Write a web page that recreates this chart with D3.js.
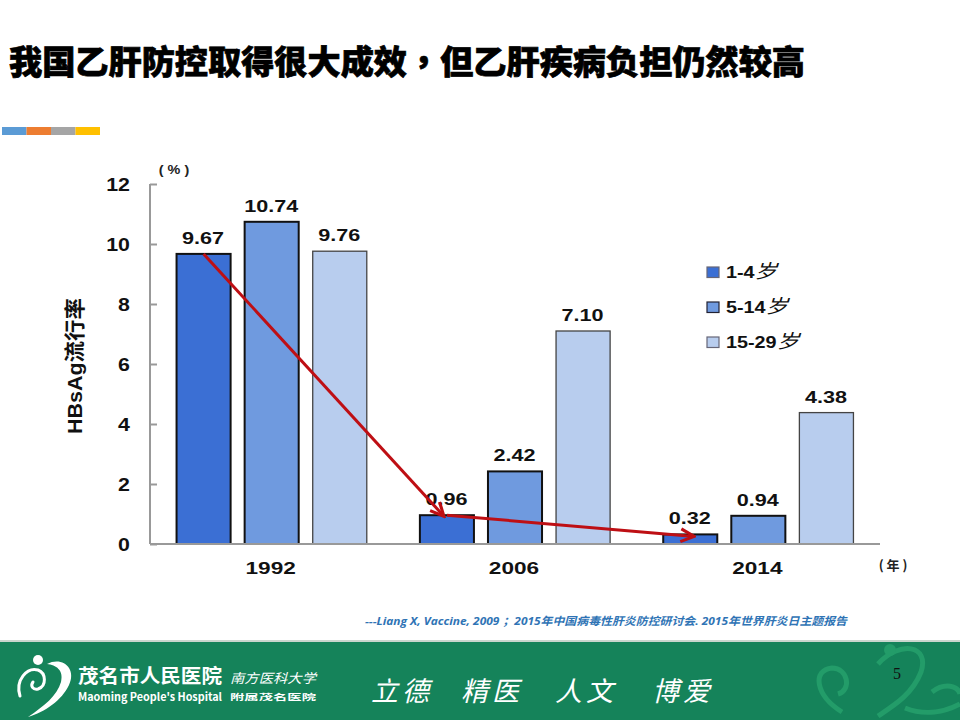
<!DOCTYPE html>
<html><head><meta charset="utf-8">
<script src="https://cdn.jsdelivr.net/npm/d3@7"></script>
<style>html,body{margin:0;padding:0;background:#fff;overflow:hidden}svg{display:block}</style>
</head><body><svg id="c" width="960" height="720"></svg>
<script>
const years = ["1992","2006","2014"];
const seriesNames = ["1-4岁","5-14岁","15-29岁"];
const values1to4 = [9.67,0.96,0.32];
const values5to14 = [10.74,2.42,0.94];
const values15to29 = [9.76,7.10,4.38];
const labels1to4 = ["9.67","0.96","0.32"];
const labels5to14 = ["10.74","2.42","0.94"];
const labels15to29 = ["9.76","7.10","4.38"];
const yTicks = [0,2,4,6,8,10,12];
const seriesColors = ["#3B6FD4","#6F9ADF","#B8CDEE"];
const seriesStrokes = ["#111","#111","#444"];
const accentColors = ["#5B9BD5","#ED7D31","#A5A5A5","#FFC000"];
const titleText = "我国乙肝防控取得很大成效，但乙肝疾病负担仍然较高";
const sourceText = "---Liang X, Vaccine, 2009 ；2015年中国病毒性肝炎防控研讨会. 2015年世界肝炎日主题报告";
const mottoes = ["立德","精医","人文","博爱"];

const svg = d3.select("#c");
const SANS = "'Liberation Sans','Noto Sans CJK SC',sans-serif";
const CJK = "'Noto Sans CJK SC',sans-serif";
const x0 = d3.scaleBand().domain(years).range([150,880]);
const x1 = d3.scaleBand().domain(seriesNames).range([0,x0.bandwidth()]).paddingInner(0.206).paddingOuter(0.39);
const y = d3.scaleLinear().domain([0,12]).range([544,184]);
const allValues = [values1to4,values5to14,values15to29];
const allLabels = [labels1to4,labels5to14,labels15to29];

// title (the full-width comma sits centred, as in the TC glyph)
const title = svg.append("text").attr("x",9).attr("y",74).attr("font-family",CJK).attr("font-weight",900)
  .attr("font-size",33).attr("fill","#000").attr("stroke","#000").attr("stroke-width",0.7)
  .attr("textLength",796).attr("lengthAdjust","spacingAndGlyphs");
titleText.split(/(，)/).forEach(part=>{
  const t = title.append("tspan").text(part);
  if(part==="，") t.attr("font-family","'Noto Sans CJK TC',sans-serif");
});

// accent strip
const accent = d3.scaleBand().domain(d3.range(accentColors.length)).range([2,100]);
svg.selectAll("rect.accent").data(accentColors).join("rect").attr("class","accent")
  .attr("x",(d,i)=>accent(i)).attr("y",127).attr("width",accent.bandwidth()).attr("height",8).attr("fill",d=>d);

// bars
allValues.forEach((vals,s)=>{
  svg.append("g").selectAll("rect").data(vals).join("rect")
    .attr("x",(d,i)=>x0(years[i])+x1(seriesNames[s]))
    .attr("y",d=>y(d)).attr("width",x1.bandwidth()).attr("height",d=>y(0)-y(d))
    .attr("fill",seriesColors[s]).attr("stroke",seriesStrokes[s]).attr("stroke-width",s===2?1.3:2);
  svg.append("g").selectAll("text").data(vals).join("text")
    .attr("transform",(d,i)=>`translate(${x0(years[i])+x1(seriesNames[s])+x1.bandwidth()/2-0.5},${y(d)-10}) scale(1.27,1)`)
    .attr("text-anchor","middle").attr("font-family",SANS).attr("font-weight",700).attr("font-size",17).attr("fill","#111")
    .text((d,i)=>allLabels[s][i]);
});

// axes
const gy = svg.append("g").attr("transform","translate(150,0)")
  .call(d3.axisRight(y).tickValues(yTicks).tickSize(7).tickFormat(d3.format("d")));
gy.selectAll("path,line").attr("stroke","#999").attr("stroke-width",2);
gy.select("path").attr("d","M0,184V544");
gy.selectAll("text").attr("x",0).attr("dy",0).attr("text-anchor","end").attr("font-family",SANS).attr("font-weight",700)
  .attr("font-size",17.5).attr("fill","#111").attr("transform","translate(-20,6) scale(1.22,1)");
const gx = svg.append("g").attr("transform","translate(0,544)")
  .call(d3.axisBottom(x0).tickSize(0));
gx.selectAll("path").attr("stroke","#999").attr("stroke-width",2);
gx.select("path").attr("d","M150,0H880");
gx.selectAll("text").attr("y",0).attr("dy",0).attr("font-family",SANS).attr("font-weight",700)
  .attr("font-size",17).attr("fill","#111").attr("transform","translate(-1,30) scale(1.33,1)");

svg.append("text").attr("transform","translate(174,174) scale(1.2,1)").attr("text-anchor","middle")
  .attr("font-family",SANS).attr("font-weight",700).attr("font-size",12).attr("fill","#222").text("( % )");
svg.append("text").attr("x",893).attr("y",570).attr("text-anchor","middle")
  .attr("font-family",CJK).attr("font-weight",700).attr("font-size",13).attr("fill","#222").text("( 年 )");
svg.append("text").attr("transform","translate(82,366) rotate(-90)").attr("text-anchor","middle")
  .attr("font-family",SANS).attr("font-weight",700).attr("font-size",21).attr("fill","#111")
  .attr("textLength",136).attr("lengthAdjust","spacingAndGlyphs").text("HBsAg流行率");

// legend
const legendY = d3.scalePoint().domain(seriesNames).range([272,342]);
const lg = svg.append("g").selectAll("g").data(seriesNames).join("g").attr("transform",d=>`translate(707,${legendY(d)})`);
lg.append("rect").attr("y",-5).attr("width",12).attr("height",10.5)
  .attr("fill",(d,i)=>seriesColors[i]).attr("stroke",(d,i)=>i===1?"#223":"#667").attr("stroke-width",1.2);
lg.append("text").attr("transform","translate(19,6) scale(1.2,1)").attr("font-family",SANS).attr("font-weight",700)
  .attr("font-size",16.5).attr("fill","#111").each(function(d){
    const t=d3.select(this), m=d.match(/^(.*)(岁)$/);
    t.append("tspan").text(m[1]);
    t.append("tspan").attr("font-weight",400).attr("font-family",CJK).attr("font-style","italic").attr("font-size",19).text(m[2]);
  });

// arrows
const defs = svg.append("defs");
defs.append("marker").attr("id","ah").attr("viewBox","0 0 12 12").attr("refX",10.5).attr("refY",6)
  .attr("markerWidth",17).attr("markerHeight",17).attr("markerUnits","userSpaceOnUse").attr("orient","auto")
  .append("path").attr("d","M1,1.5L10.5,6L1,10.5").attr("fill","none").attr("stroke","#BE0F14").attr("stroke-width",2.2);
const cx = i=>x0(years[i])+x1(seriesNames[0])+x1.bandwidth()/2;
const seg = (a,b,dx,dy)=>svg.append("line")
  .attr("x1",cx(a)).attr("y1",y(values1to4[a])).attr("x2",cx(b)+dx).attr("y2",y(values1to4[b])+dy)
  .attr("stroke","#BE0F14").attr("stroke-width",3).attr("marker-end","url(#ah)");
seg(0,1,-3,1); seg(1,2,4,2);

// source
svg.append("text").attr("x",365).attr("y",625).attr("font-family","'Open Sans','Noto Sans CJK SC',sans-serif")
  .attr("font-style","italic").attr("font-weight",700).attr("font-size",11).attr("fill","#2F74B5")
  .attr("textLength",482).attr("lengthAdjust","spacingAndGlyphs").text(sourceText);

// footer
svg.append("rect").attr("x",0).attr("y",640).attr("width",960).attr("height",2).attr("fill","#C9D6CE");
svg.append("rect").attr("x",0).attr("y",642).attr("width",960).attr("height",78).attr("fill","#15835A");
const deco = svg.append("g").attr("fill","none").attr("stroke","#239C69").attr("stroke-width",5);
["M842,712C815,695 812,670 832,668C848,668 852,690 838,694",
 "M878,664C900,640 930,645 921,672C912,695 893,706 878,716",
 "M932,692C945,682 958,686 960,694","M905,708C925,716 945,712 960,704"].forEach(p=>deco.append("path").attr("d",p));
svg.append("circle").attr("cx",890).attr("cy",650).attr("r",6).attr("fill","#239C69");
const logo = svg.append("g");
logo.append("circle").attr("cx",38).attr("cy",660).attr("r",5).attr("fill","#fff");
logo.append("path").attr("d","M47,664C62,656 77,668 69,685C62,700 45,712 28,717C44,706 57,696 61,682C64,670 56,665 47,664Z").attr("fill","#fff");
logo.append("path").attr("d","M20,696C15,680 27,667 38,670C46,673 47,686 38,689C33,690 30,686 33,682")
  .attr("fill","none").attr("stroke","#fff").attr("stroke-width",3).attr("stroke-linecap","round");
const ft = (x,yy,s,size,w,len,extra)=>svg.append("text").attr("x",x).attr("y",yy).attr("font-family",CJK)
  .attr("font-weight",w).attr("font-size",size).attr("fill","#fff").attr("textLength",len)
  .attr("lengthAdjust","spacingAndGlyphs").attr("font-style",extra||"normal").text(s);
ft(78,683,"茂名市人民医院",19,700,144);
ft(78,701,"Maoming People's Hospital",11,700,144);
ft(230,683,"南方医科大学",13,400,86,"italic");
ft(230,700,"附属茂名医院",8,700,86);
const mottoX = d3.scaleOrdinal().domain(mottoes).range([371,461,555,652]);
svg.append("g").selectAll("text").data(mottoes).join("text")
  .attr("x",d=>mottoX(d)).attr("y",701).attr("font-family",CJK).attr("font-size",27).attr("font-style","italic")
  .attr("fill","#fff").attr("textLength",58).attr("lengthAdjust","spacing").text(d=>d);
svg.append("text").attr("x",893).attr("y",679).attr("font-family","'Liberation Serif',serif").attr("font-size",16).attr("fill","#111").text("5");
</script></body></html>
